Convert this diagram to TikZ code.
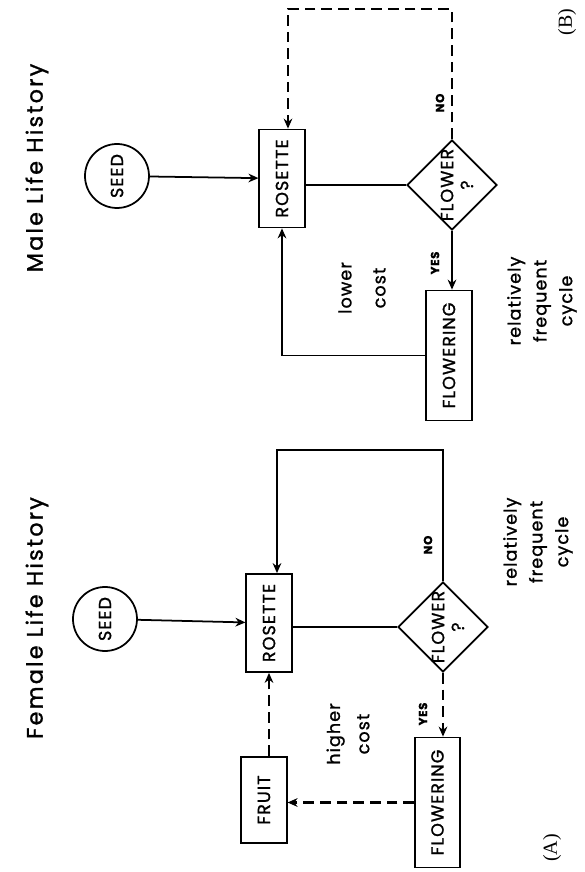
\documentclass[tikz,border=0pt]{standalone}
\usepackage{fontspec}
\setmainfont{Poppins}[LetterSpace=6, FakeBold=1.2]
\newfontfamily\panelfont{Liberation Serif}
\usepackage{tikz}
\usetikzlibrary{shapes,arrows.meta,positioning,calc}

\begin{document}
\begin{tikzpicture}[rotate=90, transform shape, x=0.3mm, y=0.3mm,
  box/.style={rectangle, draw, line width=1.5pt, minimum width=#1, minimum height=13.6mm, inner sep=0pt, font=\fontsize{15}{18}\selectfont},
  seedcirc/.style={circle, draw, line width=1.5pt, minimum size=19.2mm, inner sep=0pt, font=\fontsize{15}{18}\selectfont},
  ask/.style={diamond, draw, line width=1.5pt, minimum width=27mm, minimum height=27mm, inner sep=0pt,
    label={[align=center, font=\fontsize{15}{17}\selectfont, yshift=-1.5mm]center:FLOWER\\?}},
  link/.style={line width=1.5pt},
  arr/.style={-{Stealth[length=3mm, width=2.6mm]}, line width=1.5pt},
  darr/.style={arr, line width=1.9pt, dash pattern=on 3.2mm off 1.8mm},
  yn/.style={font=\bfseries\fontsize{10}{12}\selectfont},
  note/.style={align=center, font=\fontsize{15}{#1}\selectfont},
  note/.default=21,
  headtext/.style={font=\fontsize{19}{22}\selectfont\addfontfeature{LetterSpace=10}},
  panel/.style={font=\panelfont\fontsize{17}{20}\selectfont}
]
  \useasboundingbox (0,0) rectangle (872,584);

  % Male life history
  \node[headtext] (titleB) at (704,547) {Male Life History};
  \node[seedcirc] (seedB) at (696,467) {SEED};
  \node[box=29.4mm] (rosetteB) at (693.5,302) {ROSETTE};
  \node[ask] (flowerB) at (687,132) {};
  \node[box=39mm] (flowB) at (516.5,135) {FLOWERING};
  \node[yn] (noB) at (769,144) {NO};
  \node[yn] (yesB) at (609,149) {YES};
  \node[note=29] (costB) at (584,222) {lower\\cost};
  \node[note=22] (cycleB) at (571,42) {relatively\\frequent\\cycle};
  \node[panel] (labB) at (850,17) {(B)};
  \draw[arr] (seedB) -- (rosetteB);
  \draw[link] (rosetteB.south -| flowerB.north) -- (flowerB.north);
  \draw[darr] (flowerB.east) -- ++(130,0) |- ($(rosetteB.east)+(0,-6)$);
  \draw[arr] (flowerB.west) -- (flowerB.west -| flowB.east);
  \draw[arr] (flowB.north) |- (rosetteB.west);

  % Female life history
  \node[headtext] (titleA) at (254,547) {Female Life History};
  \node[seedcirc] (seedA) at (253,479) {SEED};
  \node[box=29.4mm] (rosetteA) at (249,315) {ROSETTE};
  \node[ask] (flowerA) at (245,141) {};
  \node[box=39mm] (flowA) at (69.5,146.5) {FLOWERING};
  \node[box=25.8mm] (fruit) at (72,320) {FRUIT};
  \node[yn] (noA) at (327,156) {NO};
  \node[yn] (yesA) at (158,161) {YES};
  \node[note=25] (costA) at (138,236) {higher\\cost};
  \node[note=22] (cycleA) at (330,46) {relatively\\frequent\\cycle};
  \node[panel] (labA) at (24,32) {(A)};
  \draw[arr] (seedA) -- (rosetteA);
  \draw[link] (rosetteA.south -| flowerA.north) -- (flowerA.north);
  \draw[arr] (flowerA.east) -- ++(131,0) |- ($(rosetteA.east)+(0,-8)$);
  \draw[darr] (flowerA.west) -- (flowerA.west -| flowA.east);
  \draw[darr] (flowA.north) -- (flowA.north |- fruit.south);
  \draw[darr] (fruit.east |- rosetteA.west) -- (rosetteA.west);
\end{tikzpicture}
\end{document}
